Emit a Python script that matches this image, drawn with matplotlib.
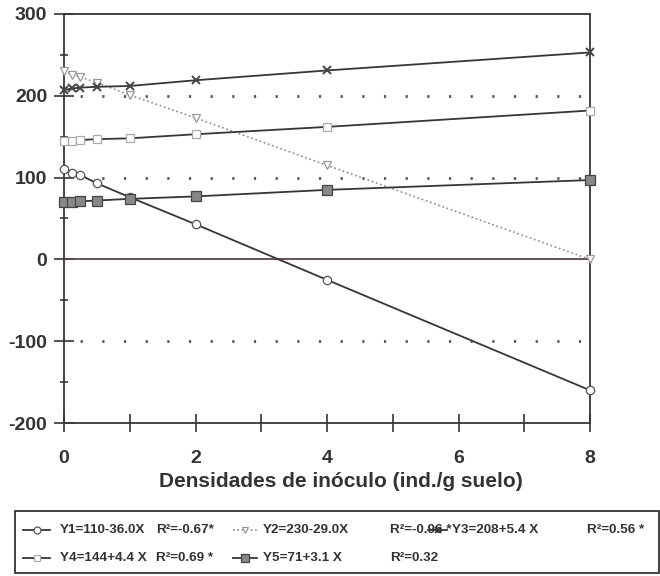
import matplotlib
matplotlib.use("Agg")
from matplotlib import pyplot as plt
from matplotlib.lines import Line2D
from matplotlib.patches import Rectangle

plt.rcParams['font.family'] = ['Liberation Sans', 'DejaVu Sans']
plt.rcParams['axes.unicode_minus'] = False

# densidades de inoculo
x = [0, 0.125, 0.25, 0.5, 1, 2, 4, 8]
y1 = [110, 106, 103, 93, 76, 43, -25, -160]
y2 = [230, 226, 223, 216, 201, 173, 115, 0]
y3 = [207, 209, 210, 211, 212, 219, 231, 253]
y4 = [145, 145, 146, 147, 148, 153, 162, 182]
y5 = [70, 70, 71, 72, 74, 77, 85, 97]

labels = ['Y1=110-36.0X', 'Y2=230-29.0X', 'Y3=208+5.4 X', 'Y4=144+4.4 X', 'Y5=71+3.1 X']
r2 = ['R²=-0.67*', 'R²=-0.96 *', 'R²=0.56 *', 'R²=0.69 *', 'R²=0.32']

ink = '#3a3535'
txt = '#333333'
styles = [
    dict(color=ink, lw=1.3, ls='-', marker='o', ms=6, mfc='white', mec='#555555', mew=0.9),
    dict(color='#8a8a8a', lw=1.2, ls=':', marker='v', ms=6, mfc='white', mec='#999999', mew=0.9),
    dict(color=ink, lw=1.3, ls='-', marker='x', ms=6, mfc='none', mec='#444444', mew=1.4),
    dict(color=ink, lw=1.3, ls='-', marker='s', ms=6, mfc='white', mec='#aaaaaa', mew=0.9),
    dict(color=ink, lw=1.3, ls='-', marker='s', ms=7, mfc='#888888', mec='#444444', mew=0.9),
]

fig = plt.figure(figsize=(6.6, 5.76), dpi=100)
ax = fig.add_axes([64/660, 1-423/576, 526/660, 409/576])

for yy, st in zip([y1, y2, y3, y4, y5], styles):
    ax.plot(x, yy, clip_on=False, zorder=3, **st)

ax.axhline(0, color='#5a4444', lw=1.3, zorder=2)
for v in [200, 100, -100]:
    ax.axhline(v, color='#555555', lw=2, ls=(2, (0.8, 7)), zorder=1)

ax.set_xlim(0, 8)
ax.set_ylim(-200, 300)
for s in ax.spines.values():
    s.set_color(ink)
    s.set_linewidth(1.3)

ax.set_xticks(range(0, 9))
ax.set_xticklabels(['0', '', '2', '', '4', '', '6', '', '8'])
ax.set_yticks([-200, -100, 0, 100, 200, 300])
ax.set_yticks([-150, -50, 50, 150, 250], minor=True)
ax.tick_params(axis='x', direction='inout', length=13, width=1.2, color=ink, pad=13,
               labelsize=14, top=False)
ax.tick_params(axis='y', which='major', direction='inout', length=14, width=1.2, color=ink,
               pad=5, labelsize=14, right=False)
ax.tick_params(axis='y', which='minor', direction='inout', length=6, width=1.2, color=ink, right=False)
for t in ax.get_xticklabels() + ax.get_yticklabels():
    t.set_fontweight('bold')
    t.set_color(txt)

ax.set_xlabel('Densidades de inóculo (ind./g suelo)', fontsize=15, fontweight='bold',
              color=txt)
ax.xaxis.set_label_coords(0.527, -0.121)

# leyenda dibujada a mano debajo del grafico
W, H = 660.0, 576.0
fig.add_artist(Rectangle((15/W, 1-573/H), 644/W, 62/H, transform=fig.transFigure,
                         fill=False, ec=txt, lw=1.3))

def put_text(s, px, py):
    fig.text(px/W, 1-py/H, s, fontsize=9.7, fontweight='bold', color=txt, va='center', ha='left')

def entry(i, x0, x1, tx, py):
    st = dict(styles[i])
    fig.add_artist(Line2D([x0/W, x1/W], [1-py/H, 1-py/H], transform=fig.transFigure,
                          color=st['color'], lw=st['lw'], ls=st['ls']))
    mk = dict(st)
    mk['ls'] = 'none'
    mk['ms'] = st['ms'] - 1
    fig.add_artist(Line2D([(x0+x1)/2/W], [1-py/H], transform=fig.transFigure, **mk))
    put_text(labels[i], tx, py)

row1, row2 = 530, 558
entry(0, 23, 50, 60, row1)
put_text(r2[0], 156, row1)
entry(1, 233, 257, 263, row1)
put_text(r2[1], 390, row1)
entry(2, 428, 447, 452, row1)
put_text(r2[2], 587, row1)
entry(3, 23, 50, 60, row2)
put_text(r2[3], 156, row2)
entry(4, 233, 257, 263, row2)
put_text(r2[4], 390, row2)

fig.savefig('out.png', dpi=100)
